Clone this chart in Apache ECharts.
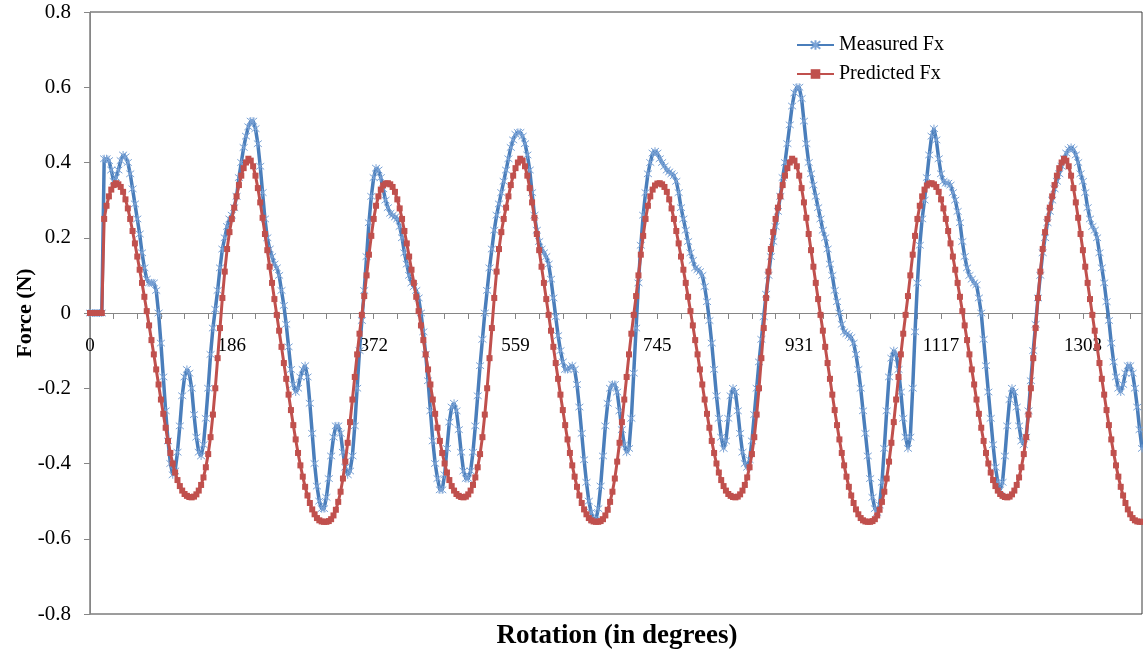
<!DOCTYPE html>
<html>
<head>
<meta charset="utf-8">
<title>Measured vs Predicted Fx</title>
<script src="https://cdn.jsdelivr.net/npm/echarts@6/dist/echarts.min.js"></script>
<style>
  html, body { margin: 0; padding: 0; background: #ffffff; }
  #chart { width: 1143px; height: 653px; }
</style>
</head>
<body>
<div id="chart"></div>
<script>
// Measured Fx (N), one sample per rotation step
const measuredFx = [
  0, 0, 0, 0, 0, 0, 0.41, 0.41, 0.405, 0.38,
  0.35, 0.36, 0.38, 0.405, 0.42, 0.415, 0.40, 0.37, 0.33, 0.29,
  0.25, 0.21, 0.16, 0.12, 0.09, 0.08, 0.08, 0.08, 0.06, 0.00,
  -0.08, -0.17, -0.26, -0.34, -0.40, -0.43, -0.42, -0.37, -0.30, -0.22,
  -0.17, -0.15, -0.16, -0.20, -0.27, -0.33, -0.37, -0.38, -0.35, -0.28,
  -0.20, -0.11, -0.04, 0.01, 0.06, 0.12, 0.17, 0.20, 0.23, 0.25,
  0.26, 0.28, 0.31, 0.36, 0.40, 0.44, 0.47, 0.495, 0.51, 0.51,
  0.49, 0.45, 0.39, 0.32, 0.25, 0.20, 0.17, 0.15, 0.13, 0.12,
  0.10, 0.06, 0.02, -0.03, -0.09, -0.15, -0.19, -0.21, -0.20, -0.17,
  -0.15, -0.14, -0.17, -0.24, -0.32, -0.40, -0.46, -0.50, -0.52, -0.52,
  -0.49, -0.44, -0.38, -0.33, -0.30, -0.30, -0.32, -0.37, -0.41, -0.43,
  -0.42, -0.38, -0.30, -0.20, -0.10, -0.02, 0.06, 0.15, 0.24, 0.31,
  0.36, 0.385, 0.38, 0.36, 0.33, 0.30, 0.28, 0.265, 0.26, 0.255,
  0.25, 0.23, 0.20, 0.16, 0.13, 0.10, 0.08, 0.07, 0.06, 0.04,
  0.00, -0.05, -0.11, -0.18, -0.26, -0.34, -0.40, -0.44, -0.47, -0.47,
  -0.43, -0.36, -0.29, -0.25, -0.24, -0.26, -0.31, -0.37, -0.42, -0.44,
  -0.44, -0.42, -0.37, -0.30, -0.22, -0.14, -0.07, 0.00, 0.06, 0.12,
  0.17, 0.22, 0.26, 0.29, 0.32, 0.35, 0.38, 0.41, 0.44, 0.46,
  0.475, 0.48, 0.48, 0.47, 0.45, 0.42, 0.38, 0.32, 0.26, 0.22,
  0.19, 0.17, 0.16, 0.15, 0.13, 0.09, 0.04, -0.01, -0.06, -0.10,
  -0.13, -0.15, -0.15, -0.145, -0.14, -0.15, -0.19, -0.25, -0.32, -0.39,
  -0.45, -0.50, -0.53, -0.55, -0.55, -0.52, -0.46, -0.38, -0.30, -0.24,
  -0.20, -0.19, -0.19, -0.21, -0.26, -0.31, -0.35, -0.37, -0.36, -0.28,
  -0.16, -0.04, 0.08, 0.18, 0.26, 0.32, 0.37, 0.40, 0.425, 0.43,
  0.425, 0.41, 0.40, 0.39, 0.38, 0.375, 0.37, 0.365, 0.35, 0.32,
  0.28, 0.25, 0.22, 0.19, 0.16, 0.14, 0.12, 0.115, 0.11, 0.10,
  0.07, 0.03, -0.02, -0.08, -0.15, -0.22, -0.28, -0.33, -0.36, -0.34,
  -0.28, -0.22, -0.20, -0.21, -0.26, -0.32, -0.37, -0.40, -0.41, -0.39,
  -0.34, -0.27, -0.20, -0.13, -0.07, -0.01, 0.05, 0.10, 0.15, 0.19,
  0.23, 0.27, 0.31, 0.36, 0.40, 0.45, 0.50, 0.55, 0.585, 0.60,
  0.60, 0.57, 0.51, 0.45, 0.40, 0.37, 0.34, 0.31, 0.28, 0.25,
  0.22, 0.20, 0.17, 0.13, 0.10, 0.06, 0.03, 0.00, -0.03, -0.05,
  -0.055, -0.06, -0.065, -0.08, -0.11, -0.15, -0.20, -0.26, -0.32, -0.38,
  -0.44, -0.49, -0.52, -0.53, -0.51, -0.45, -0.36, -0.26, -0.17, -0.12,
  -0.10, -0.11, -0.15, -0.21, -0.28, -0.33, -0.36, -0.33, -0.20, -0.05,
  0.08, 0.18, 0.25, 0.30, 0.36, 0.42, 0.47, 0.49, 0.46, 0.41,
  0.37, 0.35, 0.345, 0.345, 0.34, 0.32, 0.30, 0.27, 0.24, 0.19,
  0.15, 0.12, 0.10, 0.09, 0.08, 0.075, 0.04, 0.00, -0.07, -0.14,
  -0.21, -0.28, -0.35, -0.41, -0.45, -0.47, -0.45, -0.38, -0.30, -0.23,
  -0.20, -0.21, -0.25, -0.30, -0.34, -0.35, -0.33, -0.26, -0.18, -0.10,
  -0.03, 0.04, 0.10, 0.16, 0.20, 0.24, 0.27, 0.30, 0.33, 0.35,
  0.37, 0.39, 0.41, 0.425, 0.435, 0.44, 0.435, 0.42, 0.40, 0.37,
  0.35, 0.32, 0.28, 0.25, 0.23, 0.22, 0.20, 0.16, 0.12, 0.08,
  0.03, -0.02, -0.08, -0.13, -0.17, -0.20, -0.21, -0.19, -0.16, -0.14,
  -0.14, -0.16, -0.20, -0.25, -0.31, -0.36
];

// Predicted Fx (N), same rotation steps
const predictedFx = [
  0, 0, 0, 0, 0, 0, 0.25, 0.285, 0.31, 0.328, 0.34,
  // revolution 1
  0.345, 0.342, 0.335, 0.322, 0.302, 0.278, 0.25, 0.218, 0.185, 0.15, 0.115, 0.08, 0.043, 0.005, -0.033, -0.072, -0.11,
  -0.15, -0.19, -0.23, -0.268, -0.305, -0.34, -0.372, -0.4, -0.424, -0.444, -0.46, -0.472, -0.481, -0.486, -0.489, -0.49,
  -0.488, -0.482, -0.472, -0.457, -0.437, -0.41, -0.375, -0.33, -0.27, -0.2, -0.12, -0.04, 0.04, 0.11, 0.17, 0.215,
  0.25, 0.28, 0.31, 0.34, 0.365, 0.385, 0.4, 0.41,
  0.405, 0.39, 0.365, 0.332, 0.294, 0.253, 0.21, 0.167, 0.123, 0.08, 0.037, -0.005, -0.047, -0.09, -0.133, -0.175,
  -0.217, -0.258, -0.298, -0.336, -0.372, -0.405, -0.435, -0.462, -0.485, -0.505, -0.522, -0.535, -0.545, -0.551, -0.554, -0.555, -0.555,
  -0.553, -0.548, -0.538, -0.523, -0.502, -0.475, -0.44, -0.395, -0.345, -0.29, -0.23, -0.17, -0.11, -0.055, -0.005,
  0.045, 0.1, 0.155, 0.205, 0.25, 0.285, 0.31, 0.328, 0.339, 0.344,
  // revolution 2
  0.345, 0.342, 0.335, 0.322, 0.302, 0.278, 0.25, 0.218, 0.185, 0.15, 0.115, 0.08, 0.043, 0.005, -0.033, -0.072, -0.11,
  -0.15, -0.19, -0.23, -0.268, -0.305, -0.34, -0.372, -0.4, -0.424, -0.444, -0.46, -0.472, -0.481, -0.486, -0.489, -0.49,
  -0.488, -0.482, -0.472, -0.457, -0.437, -0.41, -0.375, -0.33, -0.27, -0.2, -0.12, -0.04, 0.04, 0.11, 0.17, 0.215,
  0.25, 0.28, 0.31, 0.34, 0.365, 0.385, 0.4, 0.41,
  0.405, 0.39, 0.365, 0.332, 0.294, 0.253, 0.21, 0.167, 0.123, 0.08, 0.037, -0.005, -0.047, -0.09, -0.133, -0.175,
  -0.217, -0.258, -0.298, -0.336, -0.372, -0.405, -0.435, -0.462, -0.485, -0.505, -0.522, -0.535, -0.545, -0.551, -0.554, -0.555, -0.555,
  -0.553, -0.548, -0.538, -0.523, -0.502, -0.475, -0.44, -0.395, -0.345, -0.29, -0.23, -0.17, -0.11, -0.055, -0.005,
  0.045, 0.1, 0.155, 0.205, 0.25, 0.285, 0.31, 0.328, 0.339, 0.344,
  // revolution 3
  0.345, 0.342, 0.335, 0.322, 0.302, 0.278, 0.25, 0.218, 0.185, 0.15, 0.115, 0.08, 0.043, 0.005, -0.033, -0.072, -0.11,
  -0.15, -0.19, -0.23, -0.268, -0.305, -0.34, -0.372, -0.4, -0.424, -0.444, -0.46, -0.472, -0.481, -0.486, -0.489, -0.49,
  -0.488, -0.482, -0.472, -0.457, -0.437, -0.41, -0.375, -0.33, -0.27, -0.2, -0.12, -0.04, 0.04, 0.11, 0.17, 0.215,
  0.25, 0.28, 0.31, 0.34, 0.365, 0.385, 0.4, 0.41,
  0.405, 0.39, 0.365, 0.332, 0.294, 0.253, 0.21, 0.167, 0.123, 0.08, 0.037, -0.005, -0.047, -0.09, -0.133, -0.175,
  -0.217, -0.258, -0.298, -0.336, -0.372, -0.405, -0.435, -0.462, -0.485, -0.505, -0.522, -0.535, -0.545, -0.551, -0.554, -0.555, -0.555,
  -0.553, -0.548, -0.538, -0.523, -0.502, -0.475, -0.44, -0.395, -0.345, -0.29, -0.23, -0.17, -0.11, -0.055, -0.005,
  0.045, 0.1, 0.155, 0.205, 0.25, 0.285, 0.31, 0.328, 0.339, 0.344,
  // revolution 4 (partial)
  0.345, 0.342, 0.335, 0.322, 0.302, 0.278, 0.25, 0.218, 0.185, 0.15, 0.115, 0.08, 0.043, 0.005, -0.033, -0.072, -0.11,
  -0.15, -0.19, -0.23, -0.268, -0.305, -0.34, -0.372, -0.4, -0.424, -0.444, -0.46, -0.472, -0.481, -0.486, -0.489, -0.49,
  -0.488, -0.482, -0.472, -0.457, -0.437, -0.41, -0.375, -0.33, -0.27, -0.2, -0.12, -0.04, 0.04, 0.11, 0.17, 0.215,
  0.25, 0.28, 0.31, 0.34, 0.365, 0.385, 0.4, 0.41,
  0.405, 0.39, 0.365, 0.332, 0.294, 0.253, 0.21, 0.167, 0.123, 0.08, 0.037, -0.005, -0.047, -0.09, -0.133, -0.175,
  -0.217, -0.258, -0.298, -0.336, -0.372, -0.405, -0.435, -0.462, -0.485, -0.505, -0.522, -0.535, -0.545, -0.551, -0.554, -0.555, -0.555
];

// Rotation angle of each sample (degrees); 60 samples span 186.2 degrees
const DEG_PER_STEP = 186.2 / 60;
const rotation = measuredFx.map((_, i) => String(Math.round(i * DEG_PER_STEP)));

const LABEL_EVERY = 60;   // one angle label per 60 samples
const TICK_EVERY = 10;    // one tick per 10 samples
const forceAxis = { min: -0.8, max: 0.8, step: 0.2 };
const seriesNames = ['Measured Fx', 'Predicted Fx'];
const axisTitles = { x: 'Rotation (in degrees)', y: 'Force (N)' };

const SERIF = '"Liberation Serif", "Times New Roman", serif';
const AXIS_GREY = '#868686';

const GRID = { left: 90, right: 1, top: 12, bottom: 39 };
const plotHeight = 653 - GRID.top - GRID.bottom;
// the rotation axis sits on the zero-force line, which is mid-height of the plot
const zeroLineOffset = -plotHeight * (0 - forceAxis.min) / (forceAxis.max - forceAxis.min);

const chart = echarts.init(document.getElementById('chart'), null, { renderer: 'canvas' });

chart.setOption({
  animation: false,
  backgroundColor: '#ffffff',
  grid: Object.assign({ show: true, borderColor: '#3a3a3a', borderWidth: 1 }, GRID),
  legend: {
    data: seriesNames,
    orient: 'vertical',
    left: 796, top: 35,
    padding: 0,
    itemWidth: 37, itemHeight: 12, itemGap: 9,
    textStyle: { fontFamily: SERIF, fontSize: 20, color: '#000' }
  },
  xAxis: {
    type: 'category',
    data: rotation,
    boundaryGap: false,
    position: 'bottom',
    offset: zeroLineOffset,
    axisLine: { onZero: false, lineStyle: { color: AXIS_GREY, width: 1 } },
    axisTick: { show: true, interval: TICK_EVERY - 1, length: 6, inside: false, lineStyle: { color: AXIS_GREY } },
    axisLabel: {
      interval: LABEL_EVERY - 1, margin: 24,
      fontFamily: SERIF, fontSize: 19, color: '#000'
    },
    splitLine: { show: false }
  },
  yAxis: {
    type: 'value',
    min: forceAxis.min, max: forceAxis.max, interval: forceAxis.step,
    axisLine: { show: true, lineStyle: { color: AXIS_GREY, width: 1 } },
    axisTick: { show: true, length: 6, lineStyle: { color: AXIS_GREY } },
    axisLabel: {
      margin: 19, fontFamily: SERIF, fontSize: 21, color: '#000',
      formatter: v => (Math.abs(v) < 1e-9 ? '0' : v.toFixed(1))
    },
    splitLine: { show: false }
  },
  graphic: [
    {
      type: 'text',
      x: 617, y: 636,
      style: {
        text: axisTitles.x,
        font: 'bold 27px "Liberation Serif", "Times New Roman", serif',
        fill: '#000',
        textAlign: 'center',
        verticalAlign: 'middle'
      }
    },
    {
      type: 'text',
      x: 25, y: 313,
      rotation: Math.PI / 2,
      style: {
        text: axisTitles.y,
        font: 'bold 22px "Liberation Serif", "Times New Roman", serif',
        fill: '#000',
        textAlign: 'center',
        verticalAlign: 'middle'
      }
    }
  ],
  series: [
    {
      name: seriesNames[0],
      type: 'line',
      data: measuredFx,
      showAllSymbol: true,
      symbol: 'path://M0,0L8,8M8,0L0,8M4,-1L4,9',
      symbolSize: 8,
      color: '#4F81BD',
      lineStyle: { color: '#4A7EBB', width: 3.5 },
      itemStyle: { color: '#4F81BD', borderColor: '#7BA3D6', borderWidth: 1 },
      emphasis: { disabled: true },
      silent: true,
      z: 2
    },
    {
      name: seriesNames[1],
      type: 'line',
      data: predictedFx,
      showAllSymbol: true,
      symbol: 'rect',
      symbolSize: 6,
      color: '#C0504D',
      lineStyle: { color: '#C0504D', width: 3 },
      itemStyle: { color: '#C0504D' },
      emphasis: { disabled: true },
      silent: true,
      z: 3
    }
  ]
});
</script>
</body>
</html>
